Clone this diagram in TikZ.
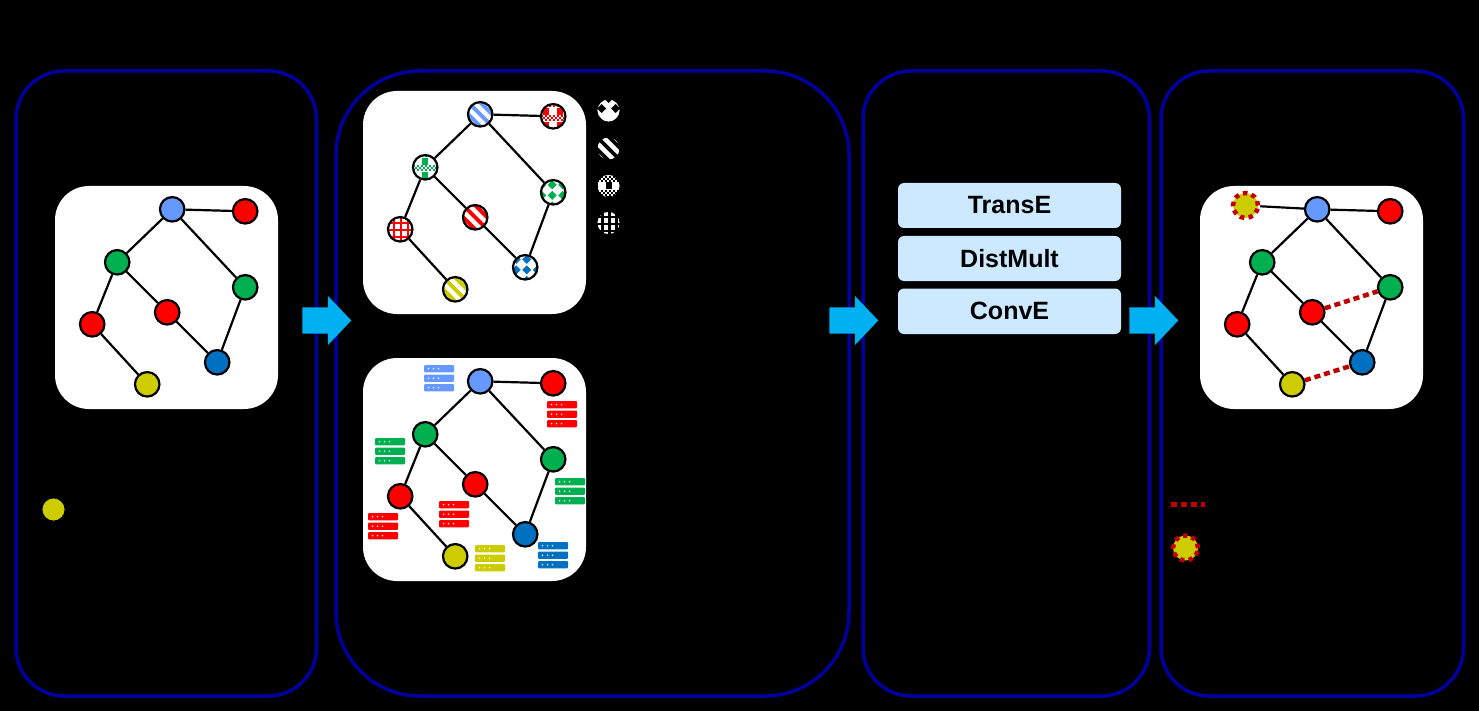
\documentclass[tikz,border=0pt]{standalone}
\usepackage{fontspec}
\setmainfont{Liberation Sans}
\usetikzlibrary{shapes.arrows}
\definecolor{kgblue}{HTML}{6699FF}
\definecolor{kgred}{HTML}{FF0000}
\definecolor{kggreen}{HTML}{00B050}
\definecolor{kgdeep}{HTML}{0070C0}
\definecolor{kgyellow}{HTML}{CCCC00}
\definecolor{kgframe}{HTML}{00009E}
\definecolor{kgarrow}{HTML}{00B0F0}
\definecolor{kgbox}{HTML}{CCE9FF}
\definecolor{kgnew}{HTML}{C00000}
\tikzset{
	ball/.style={circle, draw=black, line width=2.2pt, minimum size=24.5pt, inner sep=0pt},
	stage/.style={draw=kgframe, line width=3.5pt, minimum height=625pt, inner sep=0pt, outer sep=0pt},
	panel/.style={fill=white, rounded corners=34pt, minimum size=223pt, inner sep=0pt, outer sep=0pt},
	flow/.style={single arrow, fill=kgarrow, minimum height=49pt, minimum width=49pt, inner xsep=0pt, inner ysep=13pt,
		single arrow head extend=11.5pt, single arrow tip angle=93, single arrow head indent=0pt},
	method/.style={fill=kgbox, rounded corners=6pt, minimum width=223pt, inner sep=0pt, outer sep=0pt,
		font=\fontsize{25}{28}\selectfont\bfseries, text=black},
	link/.style={line width=2.2pt, draw=black},
	newlink/.style={line width=4.5pt, draw=kgnew, dash pattern=on 6pt off 4pt},
	newball/.style={circle, fill=kgyellow, draw=kgnew, line width=4.5pt, dash pattern=on 4.5pt off 4.3pt,
		minimum size=25pt, inner sep=0pt},
	stripehatch/.style={fill=white, path picture={
		\begin{scope}[shift={(path picture bounding box.center)}]
		\foreach \k in {-3,...,3}
			\draw[#1, line width=3.8pt] (-20+\k*6,-20-\k*6) -- (20+\k*6,20-\k*6);
		\end{scope}}},
	gridhatch/.style={fill=white, path picture={
		\begin{scope}[shift={(path picture bounding box.center)}]
		\foreach \k in {-2,...,2} {
			\draw[#1, line width=2.2pt] (\k*7+1,-16) -- (\k*7+1,16);
			\draw[#1, line width=2.2pt] (-16,\k*7+1) -- (16,\k*7+1);
		}
		\end{scope}}},
	plaidhatch/.style n args={3}{fill=white, path picture={
		\begin{scope}[shift={(path picture bounding box.center)}]
		\foreach \k in {-2,...,2}
			\draw[#1, line width=6pt] (\k*14+#2,-16) -- (\k*14+#2,16);
		\foreach \k in {-2,...,2} {
			\fill[white] (-16,\k*14+#3-3.5) rectangle (16,\k*14+#3+3.5);
			\foreach \r/\p in {-2/0,0/2,2/0}
				\draw[#1, line width=2pt, dash pattern=on 2pt off 2pt, dash phase=\p pt]
					(-16,\k*14+#3+\r) -- (16,\k*14+#3+\r);
		}
		\end{scope}}},
	spherehatch/.style n args={3}{fill=white, path picture={
		\begin{scope}[shift={(path picture bounding box.center)}]
		\foreach \i in {-2,...,2} \foreach \j in {-2,...,2}
			\fill[#1] (\i*10.5+#2+4.5,\j*10.5+#3) -- (\i*10.5+#2,\j*10.5+#3+4.5)
				-- (\i*10.5+#2-4.5,\j*10.5+#3) -- (\i*10.5+#2,\j*10.5+#3-4.5) -- cycle;
		\end{scope}}},
	spherekey/.style={fill=white, path picture={
		\begin{scope}[shift={(path picture bounding box.center)}]
		\foreach \i/\j in {-7/-2,7/-2,0/-12,-11/9,11/9}
			\fill[#1] (\i+4.5,\j) -- (\i,\j+4.5) -- (\i-4.5,\j) -- (\i,\j-4.5) -- cycle;
		\end{scope}}},
}
% the graph, with its white panel
\newcommand{\kgnet}{
	\node (panel) [panel] at (166.5,297.5) {};
	\node (a) [ball, va] at (172.2,209.3) {};
	\node (b) [ball, vb] at (245.2,211.3) {};
	\node (c) [ball, vc] at (117.2,262.3) {};
	\node (d) [ball, vd] at (245.2,287.3) {};
	\node (e) [ball, ve] at (167.2,312.3) {};
	\node (f) [ball, vf] at (92.2,324.3) {};
	\node (g) [ball, vg] at (217.2,362.3) {};
	\node (h) [ball, vh] at (147.2,384.3) {};
	\draw [link] (a) -- (b);
	\draw [link] (a) -- (c);
	\draw [link] (a) -- (d);
	\draw [link] (c) -- (e);
	\draw [link] (c) -- (f);
	\draw [link] (e) -- (g);
	\draw [link] (d) -- (g);
	\draw [link] (f) -- (h);
}
% three attribute bars next to a graph node
\newcommand{\kgattrs}[4]{
	\foreach \i in {0,1,2} {
		\node (attr#1\i) [fill=#4, rounded corners=1pt, minimum width=30pt, minimum height=7.4pt, inner sep=0pt]
			at (#2+15,#3+3.7+\i*9.5) {};
		\foreach \d in {4.5,9.5,14.5}
			\fill[white] (#2+\d,#3+3.7+\i*9.5) circle (0.8pt);
	}
}
\begin{document}
\begin{tikzpicture}[x=1pt, y=-1pt,
	va/.style={fill=kgblue}, vb/.style={fill=kgred}, vc/.style={fill=kggreen}, vd/.style={fill=kggreen},
	ve/.style={fill=kgred}, vf/.style={fill=kgred}, vg/.style={fill=kgdeep}, vh/.style={fill=kgyellow}]
	\fill[black] (0,0) rectangle (1479,711);
	\useasboundingbox (0,0) rectangle (1479,711);

	\node (stage1) [stage, rounded corners=48pt, minimum width=300.5pt] at (166.25,383.5) {};
	\node (stage2) [stage, rounded corners=84pt, minimum width=513pt] at (592.5,383.5) {};
	\node (stage3) [stage, rounded corners=48pt, minimum width=286.5pt] at (1006.25,383.5) {};
	\node (stage4) [stage, rounded corners=48pt, minimum width=302.5pt] at (1312.25,383.5) {};

	\begin{scope}[name prefix=plain-]
		\kgnet
	\end{scope}
	\begin{scope}[name prefix=hatch-, shift={(308,-95)},
		va/.style={stripehatch=kgblue},
		vb/.style={plaidhatch={kgred}{7}{2}},
		vc/.style={plaidhatch={kggreen}{0}{1}},
		vd/.style={spherehatch={kggreen}{-1}{3}},
		ve/.style={stripehatch=kgred},
		vf/.style={gridhatch=kgred},
		vg/.style={spherehatch={kgdeep}{1.5}{2.5}},
		vh/.style={stripehatch=kgyellow}]
		\kgnet
	\end{scope}
	\begin{scope}[name prefix=attr-, shift={(308,172)}]
		\kgnet
	\end{scope}
	\kgattrs{A}{424}{365}{kgblue}
	\kgattrs{B}{547}{401}{kgred}
	\kgattrs{C}{375}{438}{kggreen}
	\kgattrs{D}{555}{478}{kggreen}
	\kgattrs{E}{439}{501}{kgred}
	\kgattrs{F}{368}{513}{kgred}
	\kgattrs{G}{538}{542}{kgdeep}
	\kgattrs{H}{475}{545}{kgyellow}
	\begin{scope}[name prefix=pred-, shift={(1145,0)}]
		\kgnet
		\node (x) [newball] at (100.5,205.5) {};
		\draw [link] (x) -- (a);
		\draw [newlink] (e) -- (d);
		\draw [newlink] (h) -- (g);
	\end{scope}

	% hatching key
	\node (key1) [ball, spherekey=black] at (608.5,110.5) {};
	\node (key2) [ball, stripehatch=black] at (608.5,148.5) {};
	\node (key3) [ball, plaidhatch={black}{0}{7}] at (608.5,186) {};
	\node (key4) [ball, gridhatch=black] at (608.5,223) {};

	\node (flow1) [flow] at (320.5,320.5) {};
	\node (flow2) [flow] at (847.5,320.5) {};
	\node (flow3) [flow] at (1147.5,320.5) {};

	\node (transe) [method, minimum height=45pt] at (1009.5,205.5) {TransE};
	\node (distmult) [method, minimum height=45pt] at (1009.5,258.5) {DistMult};
	\node (conve) [method, minimum height=45.5pt] at (1009.5,311.25) {ConvE};

	% legends
	\node (solo) [ball, fill=kgyellow] at (53.5,509.5) {};
	\coordinate (dashA) at (1171,504.5);
	\coordinate (dashB) at (1205,504.5);
	\draw [newlink] (dashA) -- (dashB);
	\node (newkey) [newball] at (1185.5,548) {};
\end{tikzpicture}
\end{document}
